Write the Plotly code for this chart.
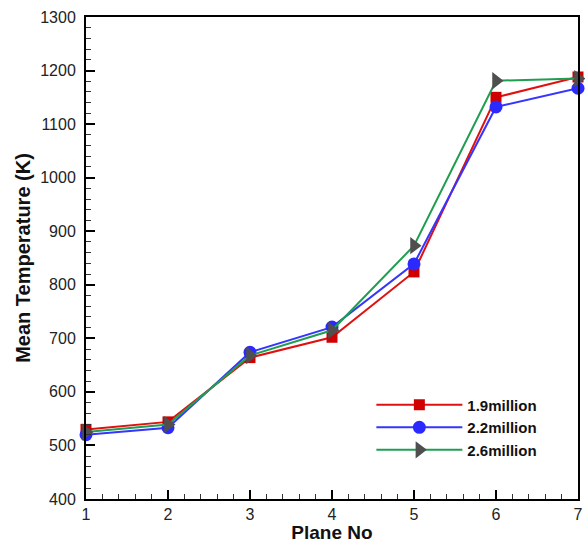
import plotly.graph_objects as go

planes = [1, 2, 3, 4, 5, 6, 7]
t_19m = [530, 544, 664, 702, 824, 1150, 1188]
t_22m = [520, 533, 674, 721, 839, 1132, 1167]
t_26m = [525, 539, 668, 715, 873, 1181, 1185]
series_names = ["1.9million", "2.2million", "2.6million"]
y_ticks = [400, 500, 600, 700, 800, 900, 1000, 1100, 1200, 1300]

fig = go.Figure()
fig.add_trace(go.Scatter(
    x=planes, y=t_19m, name=series_names[0], mode="lines+markers",
    line=dict(color="#e01010", width=2),
    marker=dict(symbol="square", size=11, color="#d00000"),
    cliponaxis=False))
fig.add_trace(go.Scatter(
    x=planes, y=t_22m, name=series_names[1], mode="lines+markers",
    line=dict(color="#3535ff", width=2),
    marker=dict(symbol="circle", size=13, color="#2a2aff"),
    cliponaxis=False))
fig.add_trace(go.Scatter(
    x=planes, y=t_26m, name=series_names[2], mode="lines+markers",
    line=dict(color="#1f9e50", width=2),
    marker=dict(symbol="triangle-right", size=15, color="#4f4f4f"),
    cliponaxis=False))

axis_common = dict(
    showline=True, linecolor="black", linewidth=2, mirror=True,
    ticks="inside", tickcolor="black", tickwidth=2, ticklen=9,
    showgrid=False, zeroline=False, automargin=False,
    tickfont=dict(family="Liberation Sans, Arial", size=16, color="#222"),
    ticklabeloverflow="allow",
)

fig.update_xaxes(
    range=[1, 7], tickmode="array", tickvals=planes,
    ticktext=[str(p) for p in planes],
    title=dict(text="<b>Plane No</b>", standoff=6,
               font=dict(family="Liberation Sans, Arial", size=19, color="#111")),
    minor=dict(ticks="inside", dtick=0.2, tick0=1, ticklen=5, tickwidth=1, tickcolor="#333"),
    **axis_common)
fig.update_yaxes(
    range=[400, 1300], tickmode="array", tickvals=y_ticks,
    ticklabelstandoff=5,
    title=dict(text="<b>Mean Temperature (K)</b>", standoff=4,
               font=dict(family="Liberation Sans, Arial", size=20, color="#111")),
    minor=dict(ticks="inside", dtick=20, tick0=400, ticklen=5, tickwidth=1, tickcolor="#333"),
    **axis_common)

fig.update_layout(
    width=585, height=543,
    margin=dict(l=86, r=7, t=17, b=44),
    plot_bgcolor="white", paper_bgcolor="white",
    legend=dict(
        x=0.58, y=0.229, xanchor="left", yanchor="top",
        bgcolor="rgba(0,0,0,0)", borderwidth=0,
        font=dict(family="Liberation Sans, Arial", size=15, color="#111"),
        itemwidth=86, tracegroupgap=0,
    ),
    showlegend=True,
)
fig.for_each_trace(lambda t: t.update(name="<b>" + t.name + "</b>"))

fig.write_html(
    "out.html",
    config={"displayModeBar": False},
    post_script="document.body.style.margin='0';document.body.style.overflow='hidden';",
)
